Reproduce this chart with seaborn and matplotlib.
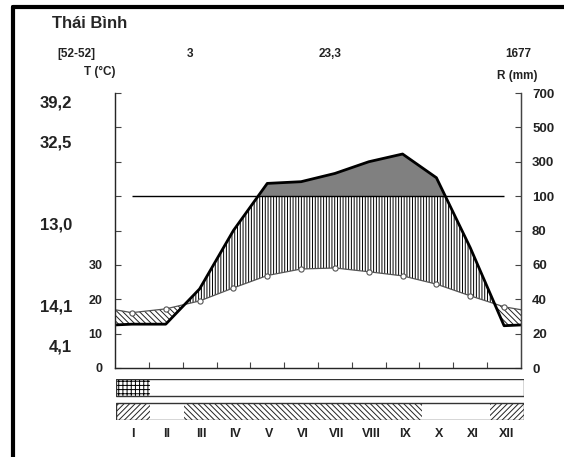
import numpy as np
import matplotlib.pyplot as plt
import seaborn as sns
from matplotlib.lines import Line2D
from matplotlib.patches import Rectangle

# station data
station = "Thái Bình"
months = ['I', 'II', 'III', 'IV', 'V', 'VI', 'VII', 'VIII', 'IX', 'X', 'XI', 'XII']
temp = [16.1, 17.2, 19.5, 23.3, 26.9, 28.8, 29.1, 28.0, 26.8, 24.4, 21.0, 17.8]
precip = [25.5, 25.5, 46, 80, 174, 184, 232, 300, 345, 207, 70, 24.6]
header = ['[52-52]', '3', '23,3', '1677']
side_values = ['39,2', '32,5', '13,0', '14,1', '4,1']
left_labels = ['0', '10', '20', '30', '', '', '', '', '']
right_labels = ['0', '20', '40', '60', '80', '100', '300', '500', '700']
frost_row = ['frost', 'none', 'none', 'none', 'none', 'none',
             'none', 'none', 'none', 'none', 'none', 'none']
season_row = ['cold', 'none', 'warm', 'warm', 'warm', 'warm',
              'warm', 'warm', 'warm', 'none', 'none', 'cold']

W, H = 564, 457


def fx(px):
    return px / W


def fy(py):
    return 1 - py / H


def scale_precip(p):
    p = np.asarray(p, dtype=float)
    # 20 mm = 10 degC up to 100 mm, then compressed 1:10
    return np.where(p <= 100, p / 2, 50 + (p - 100) / 20)


sns.set_style("white")
plt.rcParams['font.family'] = ['Liberation Sans', 'DejaVu Sans']
plt.rcParams['font.weight'] = 'bold'
plt.rcParams['hatch.linewidth'] = 0.7

fig = plt.figure(figsize=(W / 100, H / 100), dpi=100)
ax = fig.add_axes([fx(115), fy(368), fx(406), 275 / H])

x = np.arange(12) + 0.5
t_edge = (temp[0] + temp[-1]) / 2
p_edge = (precip[0] + precip[-1]) / 2
xx = np.concatenate([[0], x, [12]])
tt = np.concatenate([[t_edge], temp, [t_edge]])
pp = scale_precip(np.concatenate([[p_edge], precip, [p_edge]]))

# humid period (vertical hatch), clipped at 100 mm
humid = ax.fill_between(xx, tt, pp, where=pp >= tt, interpolate=True,
                        facecolor='none', edgecolor='black', hatch='||||||', linewidth=0)
humid.set_clip_path(Rectangle((0, 0), 12, 50, transform=ax.transData))
# very wet part above 100 mm
ax.fill_between(xx, 50, pp, where=pp >= 50, interpolate=True, color='#808080', linewidth=0)
# arid period
ax.fill_between(xx, pp, tt, where=tt > pp, interpolate=True,
                facecolor='none', edgecolor='#222222', hatch='\\\\\\\\\\\\', linewidth=0)

ax.hlines(50, x[0], x[-1], color='black', lw=1)
sns.lineplot(x=xx, y=tt, color='#555555', lw=0.9, ax=ax)
sns.lineplot(x=xx, y=pp, color='black', lw=2, ax=ax)
sns.scatterplot(x=x, y=temp, marker='o', s=14, color='white', edgecolor='#555555',
                linewidth=0.8, ax=ax, zorder=5)

ax.set_xlim(0, 12)
ax.set_ylim(0, 80)
ax.set_xticks(np.arange(1, 12))
ax.set_xticklabels([])
ax.set_yticks(np.arange(0, 81, 10))
ax.set_yticklabels(left_labels)
ax.set_xlabel('')
ax.set_ylabel('')
ax.tick_params(axis='x', bottom=True, direction='in', length=4, color='#444444')
ax.tick_params(axis='y', left=True, direction='in', length=4, pad=9,
               labelsize=9, color='#444444', labelcolor='#222222')
ax.spines['top'].set_visible(False)
for s in ['left', 'right', 'bottom']:
    ax.spines[s].set_color('#444444')
    ax.spines[s].set_linewidth(1)

ax_r = ax.twinx()
ax_r.set_ylim(0, 80)
ax_r.set_yticks(np.arange(0, 81, 10))
ax_r.set_yticklabels(right_labels)
ax_r.tick_params(axis='y', right=True, direction='in', length=4, pad=8,
                 labelsize=9.5, color='#444444', labelcolor='#222222')
ax_r.spines['top'].set_visible(False)
ax_r.spines['right'].set_color('#444444')

# bottom bars
ax_b = fig.add_axes([fx(116), fy(420), fx(408), 41 / H])
ax_b.set_xlim(0, 12)
ax_b.set_ylim(0, 41)
frost_hatch = {'frost': '++++', 'none': None}
season_hatch = {'cold': '//////', 'warm': '\\\\\\\\\\\\', 'none': None}
for i, (f, s) in enumerate(zip(frost_row, season_row)):
    if frost_hatch[f]:
        ax_b.bar(x[i], 17, width=1, bottom=24, facecolor='white', edgecolor='black',
                 hatch=frost_hatch[f], linewidth=0)
    if season_hatch[s]:
        ax_b.bar(x[i], 17, width=1, bottom=0, facecolor='white', edgecolor='#222222',
                 hatch=season_hatch[s], linewidth=0)
ax_b.bar(6, 17, width=12, bottom=24, fill=False, edgecolor='#333333', linewidth=1)
ax_b.bar(6, 17, width=12, bottom=0, fill=False, edgecolor='#333333', linewidth=1)
ax_b.set_xticks(x)
ax_b.set_xticklabels(months, fontsize=9, color='#222222')
ax_b.tick_params(axis='x', length=0, pad=6)
ax_b.set_yticks([])
for s in ax_b.spines.values():
    s.set_visible(False)
ax_b.patch.set_alpha(0)

# texts
fig.text(fx(52), fy(24), station, fontsize=12, fontweight='bold', va='center', ha='left')
for label, px in zip(header, [76, 190, 330, 518]):
    fig.text(fx(px), fy(54), label, fontsize=8.5, ha='center', va='center', color='#222222')
fig.text(fx(100), fy(72), 'T (°C)', fontsize=8.5, ha='center', va='center', color='#222222')
fig.text(fx(517), fy(76), 'R (mm)', fontsize=8.5, ha='center', va='center', color='#222222')
for label, py in zip(side_values, [103, 143, 225, 307, 347]):
    fig.text(fx(72), fy(py), label, fontsize=12, ha='right', va='center', color='#222222')

# outer frame
fig.add_artist(Line2D([fx(13), 1], [fy(7), fy(7)], color='black', lw=3,
                      transform=fig.transFigure))
fig.add_artist(Line2D([fx(13), fx(13)], [fy(7), 0], color='black', lw=3,
                      transform=fig.transFigure))

fig.savefig('out.png', dpi=100)
